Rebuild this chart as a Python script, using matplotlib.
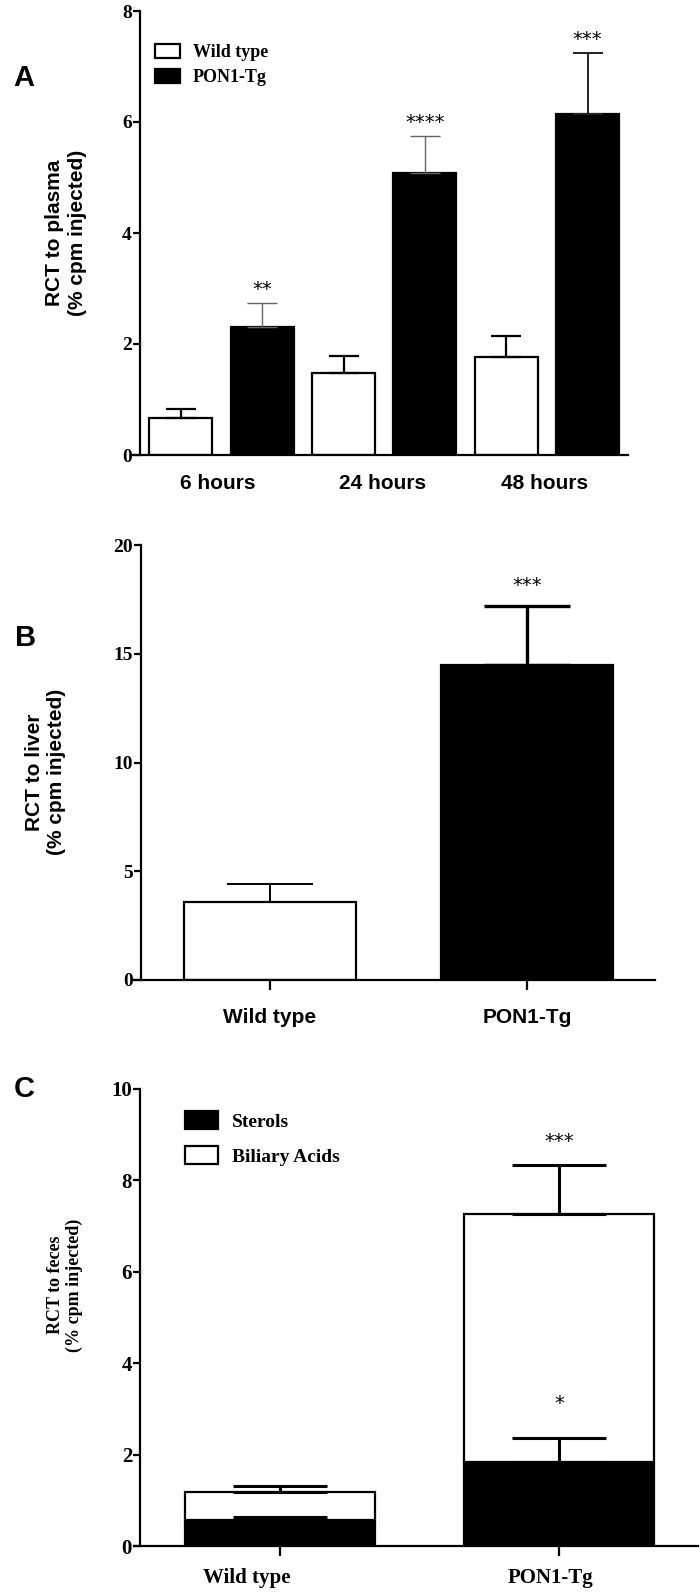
import matplotlib
matplotlib.use('Agg')
import matplotlib.pyplot as plt
from matplotlib.patches import Patch
from matplotlib.font_manager import FontProperties

# ---------------- data ----------------
# Panel A: RCT to plasma
time_labels = ['6 hours', '24 hours', '48 hours']
plasma_wt = [0.66, 1.48, 1.77]
plasma_wt_err = [0.17, 0.30, 0.37]
plasma_tg = [2.31, 5.08, 6.15]
plasma_tg_err = [0.43, 0.66, 1.09]
plasma_stars = ['**', '****', '***']

# Panel B: RCT to liver
groups = ['Wild type', 'PON1-Tg']
liver = [3.57, 14.50]
liver_err = [0.83, 2.68]
liver_stars = ['', '***']

# Panel C: RCT to feces (stacked)
sterols = [0.57, 1.84]
sterols_err = [0.065, 0.53]
biliary = [0.62, 5.42]
biliary_err = [0.12, 1.07]
sterols_stars = ['', '*']
total_stars = ['', '***']

# ---------------- style ----------------
W, H = 700, 1595
SANS = 'Liberation Sans'
SERIF = 'Liberation Serif'
fig = plt.figure(figsize=(W / 100, H / 100), dpi=100)


def rect(x0, x1, y_top, y_bot):
    return [x0 / W, 1 - y_bot / H, (x1 - x0) / W, (y_bot - y_top) / H]


def style_axes(ax, lw=1.6):
    for s in ['top', 'right']:
        ax.spines[s].set_visible(False)
    ax.spines['left'].set_linewidth(lw)
    ax.spines['bottom'].set_linewidth(lw)
    ax.spines['left'].set_position(('data', -0.5))
    ax.tick_params(axis='y', direction='out', length=5, width=lw, pad=1)


def ytick_font(ax, size):
    for lab in ax.get_yticklabels():
        lab.set_fontfamily(SERIF)
        lab.set_fontweight('bold')
        lab.set_fontsize(size)


# ---------------- Panel A ----------------
axA = fig.add_axes(rect(133, 628, 11, 455))
style_axes(axA)
xa_wt = [0, 2, 4]
xa_tg = [1, 3, 5]
bw = 0.775
axA.bar(xa_wt, plasma_wt, width=bw, color='white', edgecolor='black', linewidth=1.6, zorder=2)
axA.bar(xa_tg, plasma_tg, width=bw, color='black', edgecolor='black', linewidth=1.6, zorder=2)
axA.errorbar(xa_wt, plasma_wt, yerr=[[0] * 3, plasma_wt_err], fmt='none', ecolor='black',
             elinewidth=1.6, capsize=11, capthick=1.6, zorder=3)
tg_ecols = ['#666666', '#666666', '#222222']
tg_ew = [1.0, 1.0, 1.4]
for x, v, e, c, w in zip(xa_tg, plasma_tg, plasma_tg_err, tg_ecols, tg_ew):
    axA.errorbar([x], [v], yerr=[[0], [e]], fmt='none', ecolor=c, elinewidth=w,
                 capsize=11, capthick=w, zorder=3)
for x, v, e, s in zip(xa_tg, plasma_tg, plasma_tg_err, plasma_stars):
    axA.annotate(s, (x, v + e), xytext=(0, 3), textcoords='offset points', ha='center',
                 va='bottom', fontsize=14, family='DejaVu Sans')
axA.set_xlim(-0.59, 5.498)
axA.set_ylim(0, 8)
axA.set_yticks([0, 2, 4, 6, 8])
axA.set_xticks([0.45, 2.48, 4.47])
axA.set_xticklabels(time_labels, fontfamily=SANS, fontweight='bold', fontsize=15)
axA.tick_params(axis='x', length=0, pad=14)
ytick_font(axA, 14)
axA.legend([Patch(facecolor='white', edgecolor='black', linewidth=1.6),
            Patch(facecolor='black', edgecolor='black', linewidth=1.6)],
           ['Wild type', 'PON1-Tg'], loc='upper left',
           bbox_to_anchor=(155 / W, 1 - 44 / H), bbox_transform=fig.transFigure,
           frameon=False, borderpad=0, borderaxespad=0, handlelength=1.39,
           handleheight=0.83, handletextpad=0.7, labelspacing=0.42,
           prop=FontProperties(family=SERIF, weight='bold', size=13))

# ---------------- Panel B ----------------
axB = fig.add_axes(rect(134, 655, 545, 980))
style_axes(axB)
xb = [0, 1]
bwb = 0.67
axB.bar(xb, liver, width=bwb, color=['white', 'black'], edgecolor='black', linewidth=1.6, zorder=2)
b_ew = [1.4, 2.4]
for x, v, e, w in zip(xb, liver, liver_err, b_ew):
    axB.errorbar([x], [v], yerr=[[0], [e]], fmt='none', ecolor='black', elinewidth=w,
                 capsize=31, capthick=w, zorder=3)
for x, v, e, s in zip(xb, liver, liver_err, liver_stars):
    if s:
        axB.annotate(s, (x, v + e), xytext=(0, 8), textcoords='offset points', ha='center',
                     va='bottom', fontsize=14, family='DejaVu Sans')
axB.set_xlim(-0.529, 1.498)
axB.set_ylim(0, 20)
axB.set_yticks([0, 5, 10, 15, 20])
axB.set_xticks(xb)
axB.set_xticklabels(groups, fontfamily=SANS, fontweight='bold', fontsize=15)
axB.tick_params(axis='x', direction='out', length=7, width=1.6, pad=13)
ytick_font(axB, 14)

# ---------------- Panel C ----------------
axC = fig.add_axes(rect(134, 698, 1089, 1546))
style_axes(axC)
xc = [0, 1]
bwc = 0.68
totals = [s + b for s, b in zip(sterols, biliary)]
axC.bar(xc, sterols, width=bwc, color='black', edgecolor='black', linewidth=1.6, zorder=2)
axC.bar(xc, biliary, bottom=sterols, width=bwc, color='white', edgecolor='black',
        linewidth=1.6, zorder=2)
axC.errorbar(xc, sterols, yerr=[[0, 0], sterols_err], fmt='none', ecolor='black',
             elinewidth=2.2, capsize=34, capthick=2.2, zorder=3)
axC.errorbar(xc, totals, yerr=[[0, 0], biliary_err], fmt='none', ecolor='black',
             elinewidth=2.2, capsize=34, capthick=2.2, zorder=3)
for x, v, e, s in zip(xc, totals, biliary_err, total_stars):
    if s:
        axC.annotate(s, (x, v + e), xytext=(0, 10), textcoords='offset points', ha='center',
                     va='bottom', fontsize=14, family='DejaVu Sans')
for x, v, e, s in zip(xc, sterols, sterols_err, sterols_stars):
    if s:
        axC.annotate(s, (x, v + e), xytext=(0, 18), textcoords='offset points', ha='center',
                     va='bottom', fontsize=14, family='DejaVu Sans')
axC.set_xlim(-0.523, 1.498)
axC.set_ylim(0, 10)
axC.set_yticks([0, 2, 4, 6, 8, 10])
axC.set_xticks(xc)
axC.set_xticklabels(['', ''])
axC.tick_params(axis='x', direction='out', length=7, width=1.6)
ytick_font(axC, 15)
for x, lab in zip([-0.12, 0.97], groups):
    axC.text(x, -0.070, lab, transform=axC.get_xaxis_transform(), ha='center', va='center',
             fontfamily=SERIF, fontweight='bold', fontsize=15)
axC.legend([Patch(facecolor='black', edgecolor='black', linewidth=1.6),
            Patch(facecolor='white', edgecolor='black', linewidth=1.6)],
           ['Sterols', 'Biliary Acids'], loc='upper left',
           bbox_to_anchor=(185 / W, 1 - 1111 / H), bbox_transform=fig.transFigure,
           frameon=False, borderpad=0, borderaxespad=0, handlelength=1.7,
           handleheight=1.03, handletextpad=0.7, labelspacing=0.8,
           prop=FontProperties(family=SERIF, weight='bold', size=14))

# ---------------- labels ----------------
for (x, y, t) in [(24, 78, 'A'), (26, 638, 'B'), (24, 1089, 'C')]:
    fig.text(x / W, 1 - y / H, t, ha='center', va='center', fontsize=21,
             fontweight='bold', family=SANS)
fig.text(66 / W, 1 - 233 / H, 'RCT to plasma\n(% cpm injected)', rotation=90, ha='center',
         va='center', multialignment='center', fontsize=15, fontweight='bold', family=SANS,
         linespacing=1.25)
fig.text(46 / W, 1 - 772 / H, 'RCT to liver\n(% cpm injected)', rotation=90, ha='center',
         va='center', multialignment='center', fontsize=15, fontweight='bold', family=SANS,
         linespacing=1.2)
fig.text(65 / W, 1 - 1285 / H, 'RCT to feces\n(% cpm injected)', rotation=90, ha='center',
         va='center', multialignment='center', fontsize=13, fontweight='bold', family=SERIF,
         linespacing=1.1)

fig.savefig('out.png', dpi=100)
